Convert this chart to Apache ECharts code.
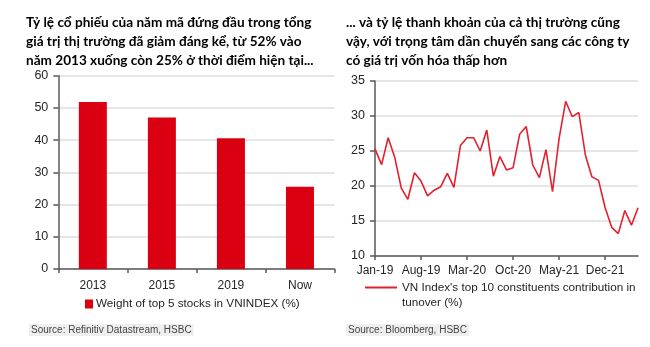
<!DOCTYPE html>
<html>
<head>
<meta charset="utf-8">
<script src="https://cdn.jsdelivr.net/npm/echarts@6/dist/echarts.min.js"></script>
<style>
html,body{margin:0;padding:0;background:#fff;}
#chart{width:650px;height:347px;}
</style>
</head>
<body>
<div id="chart"></div>
<script>
const leftTitle = 'Tỷ lệ cổ phiếu của năm mã đứng đầu trong tổng\ngiá trị thị trường đã giảm đáng kể, từ 52% vào\nnăm 2013 xuống còn 25% ở thời điểm hiện tại...';
const rightTitle = '... và tỷ lệ thanh khoản của cả thị trường cũng\nvậy, với trọng tâm dần chuyển sang các công ty\ncó giá trị vốn hóa thấp hơn';
const barCategories = ['2013', '2015', '2019', 'Now'];
const barValues = [51.8, 47.0, 40.6, 25.5];
const barSeriesName = 'Weight of top 5 stocks in VNINDEX (%)';
const lineMonths = ['Jan-19','Feb-19','Mar-19','Apr-19','May-19','Jun-19','Jul-19','Aug-19','Sep-19','Oct-19','Nov-19','Dec-19',
  'Jan-20','Feb-20','Mar-20','Apr-20','May-20','Jun-20','Jul-20','Aug-20','Sep-20','Oct-20','Nov-20','Dec-20',
  'Jan-21','Feb-21','Mar-21','Apr-21','May-21','Jun-21','Jul-21','Aug-21','Sep-21','Oct-21','Nov-21','Dec-21',
  'Jan-22','Feb-22','Mar-22','Apr-22','May-22'];
const lineValues = [25.3,23.05,26.9,24.1,19.7,18.1,21.9,20.7,18.6,19.4,19.9,21.8,
  19.8,25.8,26.9,26.9,25.0,28.0,21.4,24.2,22.3,22.6,27.4,28.5,
  23.0,21.2,25.2,19.2,26.8,32.1,29.9,30.5,24.4,21.3,20.8,16.9,
  14.1,13.2,16.5,14.4,16.9];
const lineSeriesName = "VN Index's top 10 constituents contribution in total\ntunover (%)";
const leftSource = 'Source: Refinitiv Datastream, HSBC';
const rightSource = 'Source: Bloomberg, HSBC';

const narrow = '"Liberation Sans", Arial, sans-serif';
const titleFont = 'Lato, "Open Sans", sans-serif';
const axisCol = '#595959';
const gridCol = '#dedede';
const lblCol = '#262626';

const chart = echarts.init(document.getElementById('chart'), null, {renderer: 'canvas'});
chart.setOption({
  animation: false,
  backgroundColor: '#ffffff',
  title: [
    {text: leftTitle, left: 21, top: 8, textStyle: {fontFamily: titleFont, fontWeight: 'bold', fontSize: 13.6, lineHeight: 19, color: '#000'}},
    {text: rightTitle, left: 341, top: 8, textStyle: {fontFamily: titleFont, fontWeight: 'bold', fontSize: 13.6, lineHeight: 19, color: '#000'}},
    {text: leftSource, left: 29, top: 324, backgroundColor: '#efefef', padding: [1, 2], textStyle: {fontFamily: narrow, fontWeight: 'normal', fontSize: 10, color: '#444'}},
    {text: rightSource, left: 346, top: 324, backgroundColor: '#efefef', padding: [1, 2], textStyle: {fontFamily: narrow, fontWeight: 'normal', fontSize: 10, color: '#444'}}
  ],
  legend: [
    {data: [barSeriesName], left: 85, top: 298, padding: 0, icon: 'rect', itemWidth: 8, itemHeight: 9, itemGap: 4,
     textStyle: {fontFamily: narrow, fontSize: 11.7, color: lblCol, padding: [0, 0, 0, -2]}},
    {data: [lineSeriesName], left: 365, top: 280, padding: 0,
     icon: 'path://M0,0L0.01,0L0.01,0.01Z M0,6.5L32,6.5L32,8.5L0,8.5Z M0,30L0.01,30L0.01,30.01Z',
     itemWidth: 32, itemHeight: 30, itemGap: 4,
     textStyle: {fontFamily: narrow, fontSize: 11.7, color: lblCol, lineHeight: 15, width: 238, overflow: 'truncate', ellipsis: ''}}
  ],
  grid: [
    {left: 58.3, right: 315.5, top: 75.7, bottom: 78, containLabel: false},
    {left: 375, right: 12, top: 81, bottom: 91, containLabel: false}
  ],
  xAxis: [
    {gridIndex: 0, type: 'category', data: barCategories, boundaryGap: true,
     axisLine: {lineStyle: {color: axisCol, width: 1.5}},
     axisTick: {show: true, length: 4, inside: false, lineStyle: {color: axisCol, width: 1.5}},
     axisLabel: {fontFamily: narrow, fontSize: 12, color: lblCol, margin: 11}},
    {gridIndex: 1, type: 'category', data: lineMonths, boundaryGap: false,
     axisLine: {lineStyle: {color: axisCol, width: 1.5}},
     axisTick: {show: true, length: 4, interval: 6, lineStyle: {color: axisCol, width: 1.5}},
     axisLabel: {fontFamily: narrow, fontSize: 12, color: lblCol, interval: 6, margin: 9}}
  ],
  yAxis: [
    {gridIndex: 0, type: 'value', min: 0, max: 60, interval: 10,
     axisLine: {show: true, lineStyle: {color: axisCol, width: 1.5}},
     axisTick: {show: true, length: 5, lineStyle: {color: axisCol, width: 1.5}},
     splitLine: {lineStyle: {color: gridCol, width: 1.5}},
     axisLabel: {fontFamily: narrow, fontSize: 12.5, color: lblCol, margin: 10}},
    {gridIndex: 1, type: 'value', min: 10, max: 35, interval: 5,
     axisLine: {show: true, lineStyle: {color: axisCol, width: 1.5}},
     axisTick: {show: true, length: 5, lineStyle: {color: axisCol, width: 1.5}},
     splitLine: {lineStyle: {color: gridCol, width: 1.5}},
     axisLabel: {fontFamily: narrow, fontSize: 12.5, color: lblCol, margin: 10}}
  ],
  series: [
    {name: barSeriesName, type: 'bar', xAxisIndex: 0, yAxisIndex: 0, data: barValues, barWidth: 28,
     itemStyle: {color: '#db0011'}},
    {name: lineSeriesName, type: 'line', xAxisIndex: 1, yAxisIndex: 1, data: lineValues, symbol: 'none',
     lineStyle: {color: '#e3202e', width: 1.6}, itemStyle: {color: '#e3202e'}}
  ]
});
</script>
</body>
</html>
